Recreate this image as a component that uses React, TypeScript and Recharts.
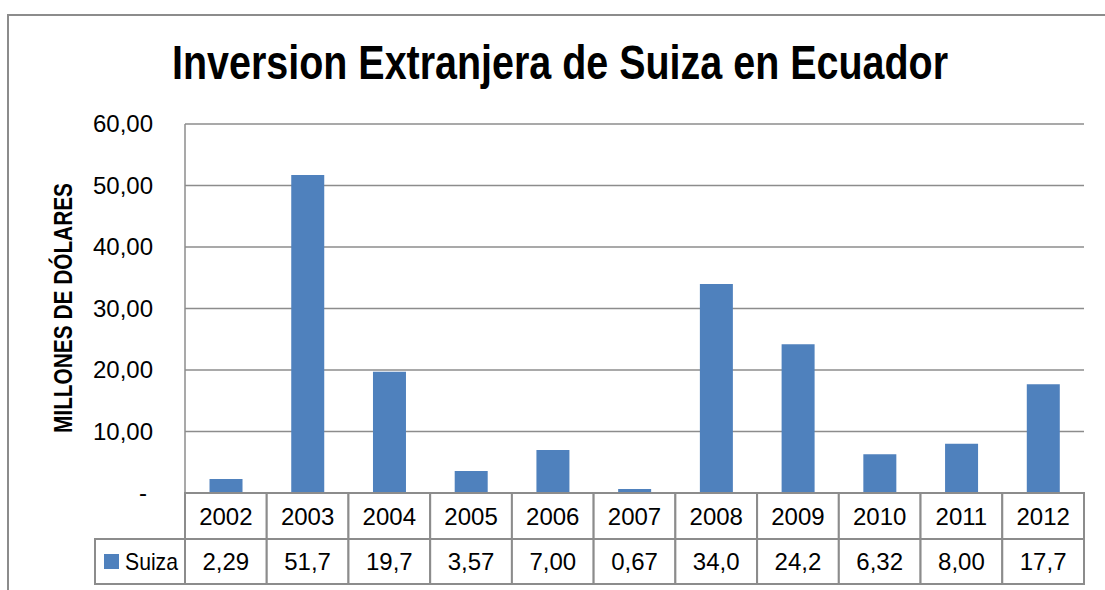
import { BarChart, Bar, XAxis, YAxis, CartesianGrid } from "recharts";

const years = ["2002", "2003", "2004", "2005", "2006", "2007", "2008", "2009", "2010", "2011", "2012"];
const suiza = [2.29, 51.7, 19.7, 3.57, 7.0, 0.67, 34.0, 24.2, 6.32, 8.0, 17.7];
const tableLabels = ["2,29", "51,7", "19,7", "3,57", "7,00", "0,67", "34,0", "24,2", "6,32", "8,00", "17,7"];
const yTicks = [0, 10, 20, 30, 40, 50, 60];

const data = years.map((year, i) => ({ year, suiza: suiza[i], label: tableLabels[i] }));

const W = 1105;
const H = 590;
const margin = { top: 124, right: 21, bottom: 0, left: 0 };
const Y_WIDTH = 185;
const plotWidth = W - margin.left - margin.right - Y_WIDTH;
const bw = plotWidth / years.length;
const ROW = 46;
const LEGEND_W = 90;

const FONT = "'Liberation Sans', Arial, sans-serif";
const GRAY = "#8c8c8c";
const BLUE = "#4F81BD";

// each x tick draws its two table cells (year + value), first one also the legend cell
const TableTick = (props: any) => {
  const { x, y, payload } = props;
  const i = payload.index;
  const left = x - bw / 2;
  return (
    <g>
      <rect x={left} y={y} width={bw} height={ROW} fill="#fff" stroke={GRAY} strokeWidth={2} />
      <rect x={left} y={y + ROW} width={bw} height={ROW - 1} fill="#fff" stroke={GRAY} strokeWidth={2} />
      <text x={x} y={y + 32} textAnchor="middle" fontSize={24} fontFamily={FONT} fill="#000">
        {payload.value}
      </text>
      <text x={x} y={y + ROW + 31} textAnchor="middle" fontSize={24} fontFamily={FONT} fill="#000">
        {tableLabels[i]}
      </text>
      {i === 0 && (
        <g>
          <rect x={left - LEGEND_W} y={y + ROW} width={LEGEND_W} height={ROW - 1} fill="#fff" stroke={GRAY} strokeWidth={2} />
          <rect x={left - LEGEND_W + 9} y={y + ROW + 15} width={15} height={15} fill={BLUE} />
          <text x={left - LEGEND_W + 30} y={y + ROW + 31} fontSize={24} fontFamily={FONT} fill="#000" textLength={53} lengthAdjust="spacingAndGlyphs">
            Suiza
          </text>
        </g>
      )}
    </g>
  );
};

const YTick = (props: any) => {
  const { x, y, payload } = props;
  const v = payload.value;
  return (
    <text x={v === 0 ? x - 6 : x} y={y + 8} textAnchor="end" fontSize={24} fontFamily={FONT} fill="#000">
      {v === 0 ? "-" : v.toFixed(2).replace(".", ",")}
    </text>
  );
};

export default function App() {
  return (
    <div style={{ position: "absolute", left: 0, top: 0, width: W, height: H, background: "#fff", overflow: "hidden" }}>
      <div
        style={{
          position: "absolute",
          left: 7,
          top: 14,
          width: 1120,
          height: 620,
          border: `2px solid ${GRAY}`,
          boxSizing: "border-box",
        }}
      />
      <div style={{ position: "absolute", left: 0, top: 0 }}>
        <BarChart width={W} height={H} data={data} margin={margin} barCategoryGap="30%">
          <CartesianGrid vertical={false} stroke={GRAY} strokeWidth={1.5} />
          <XAxis
            dataKey="year"
            height={H - 493}
            axisLine={{ stroke: GRAY, strokeWidth: 2 }}
            tickLine={false}
            tickSize={0}
            tickMargin={0}
            interval={0}
            tick={<TableTick />}
          />
          <YAxis
            width={Y_WIDTH}
            domain={[0, 60]}
            ticks={yTicks}
            interval={0}
            axisLine={{ stroke: GRAY, strokeWidth: 1.5 }}
            tickLine={false}
            tickSize={0}
            tickMargin={32}
            tick={<YTick />}
          />
          <Bar dataKey="suiza" fill={BLUE} isAnimationActive={false} />
        </BarChart>
      </div>
      <svg width={W} height={H} style={{ position: "absolute", left: 0, top: 0, pointerEvents: "none" }}>
        <text
          x={560}
          y={79}
          textAnchor="middle"
          fontFamily={FONT}
          fontWeight="bold"
          fontSize={48}
          textLength={776}
          lengthAdjust="spacingAndGlyphs"
          fill="#000"
        >
          Inversion Extranjera de Suiza en Ecuador
        </text>
        <text
          x={72}
          y={308}
          transform="rotate(-90 72 308)"
          textAnchor="middle"
          fontFamily={FONT}
          fontWeight="bold"
          fontSize={26}
          textLength={250}
          lengthAdjust="spacingAndGlyphs"
          fill="#000"
        >
          MILLONES DE DÓLARES
        </text>
      </svg>
    </div>
  );
}
